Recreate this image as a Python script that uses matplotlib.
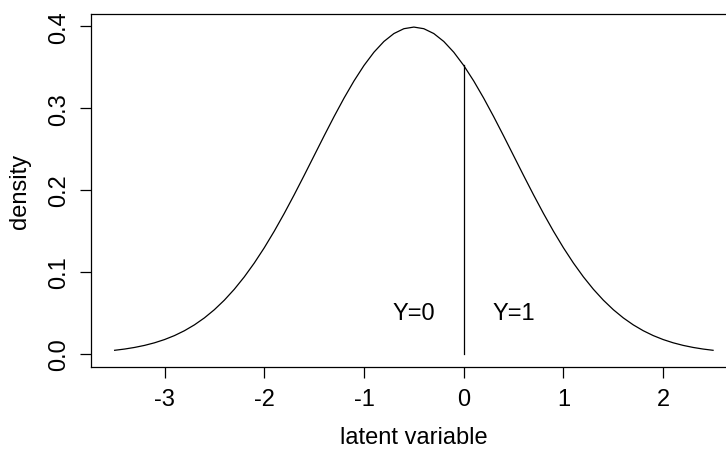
import matplotlib
matplotlib.use("Agg")
import matplotlib.pyplot as plt

# Density curve values (x from -3.5 to 2.5 step 0.1)
x_vals = [round(-3.5 + 0.1 * i, 1) for i in range(61)]
dens_half = [0.00443, 0.00595, 0.00792, 0.01042, 0.01358, 0.01753, 0.02239, 0.02833,
             0.03547, 0.04398, 0.05399, 0.06562, 0.07895, 0.09405, 0.11092, 0.12952,
             0.14973, 0.17137, 0.19419, 0.21785, 0.24197, 0.26609, 0.28969, 0.31225,
             0.33322, 0.35207, 0.36827, 0.38139, 0.39104, 0.39695, 0.39894]
density = dens_half + dens_half[-2::-1]

cut_x = 0.0
cut_top = 0.35207
labels = ["Y=0", "Y=1"]
label_x = [-0.5, 0.5]
label_y = [0.05, 0.05]

xticks = [-3, -2, -1, 0, 1, 2]
yticks = [0.0, 0.1, 0.2, 0.3, 0.4]

plt.rcParams['font.family'] = ['Liberation Sans', 'DejaVu Sans']
fs = 17

fig = plt.figure(figsize=(7.26, 4.52), dpi=100)
ax = fig.add_axes([90.7 / 726, 1 - 368 / 452, (737 - 90.7) / 726, (368 - 15) / 452])

ax.plot(x_vals, density, color='black', lw=0.9)
ax.plot([cut_x, cut_x], [0, cut_top], color='black', lw=0.9)
for t, tx, ty in zip(labels, label_x, label_y):
    ax.text(tx, ty, t, ha='center', va='center', fontsize=fs)

xr = 6.0 * 0.04
ax.set_xlim(-3.5 - xr, 2.5 + xr)
yr = 0.39894 * 0.04
ax.set_ylim(-yr, 0.39894 + yr)

ax.set_xticks(xticks)
ax.set_xticklabels([str(v) for v in xticks], fontsize=fs)
ax.set_yticks(yticks)
ax.set_yticklabels([f"{v:.1f}" for v in yticks], fontsize=fs, rotation=90, va='center')
ax.tick_params(direction='out', length=8, width=0.9, pad=7)
for s in ax.spines.values():
    s.set_linewidth(0.9)

ax.set_xlabel("latent variable", fontsize=fs, labelpad=12)
ax.set_ylabel("density", fontsize=fs, labelpad=12)

fig.savefig("out.png", dpi=100)
